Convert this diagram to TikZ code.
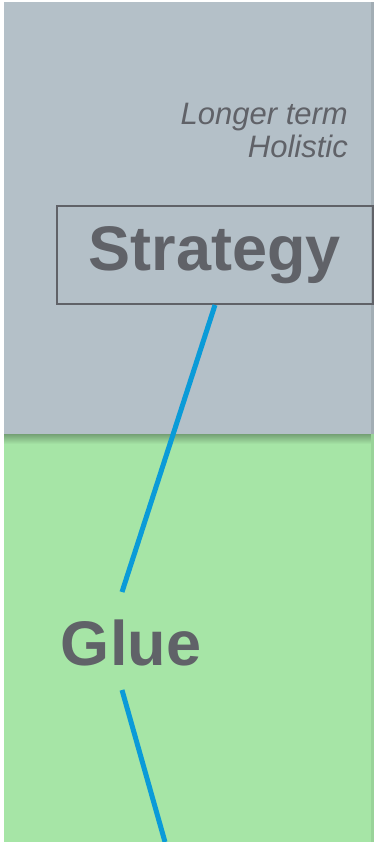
\documentclass[tikz,border=0pt]{standalone}
\usepackage{fontspec}
\setmainfont{Liberation Sans}
\usetikzlibrary{positioning}

\definecolor{panelgray}{HTML}{B4C0C8}
\definecolor{panelgreen}{HTML}{A6E5A6}
\definecolor{textgray}{HTML}{606268}
\definecolor{glueblue}{HTML}{0A9BD8}

\begin{document}
\begin{tikzpicture}[x=1pt,y=-1pt,
    bigword/.style={font=\fontsize{63}{70}\selectfont\bfseries,text=textgray,inner sep=0pt},
    framed/.style={draw=textgray,line width=2pt,minimum width=316pt,minimum height=98pt},
    note/.style={font=\fontsize{31}{33}\selectfont\itshape,text=textgray,align=right,inner sep=0pt},
    link/.style={glueblue,line width=5pt}]

    \useasboundingbox (0,0) rectangle (374,842);
    \fill[white] (0,0) rectangle (374,842);

    % two bands, with a soft edge under the upper one
    \fill[panelgray] (4,2) rectangle (371,434);
    \fill[panelgreen] (4,434) rectangle (371,842);
    \shade[top color=black!30!panelgreen,bottom color=panelgreen] (4,434) rectangle (371,444);
    \fill[black!10!panelgray] (371,2) rectangle (374,434);
    \fill[black!8!panelgreen] (371,434) rectangle (374,842);

    \node[note,anchor=base east] (scope) at (348,125) {Longer term};
    \node[note,anchor=base east] (whole) at (348,158) {Holistic};

    \node[bigword,framed] (strategy) at (215,255) {Strategy};
    \node[bigword] (glue) at (131,643) {Glue};

    \coordinate (upper) at (122,592);
    \coordinate (lower) at (122,690);
    \coordinate (bottom) at (165,842);

    \draw[link] (strategy.south) -- (upper);
    \draw[link] (lower) -- (bottom);

\end{tikzpicture}
\end{document}
